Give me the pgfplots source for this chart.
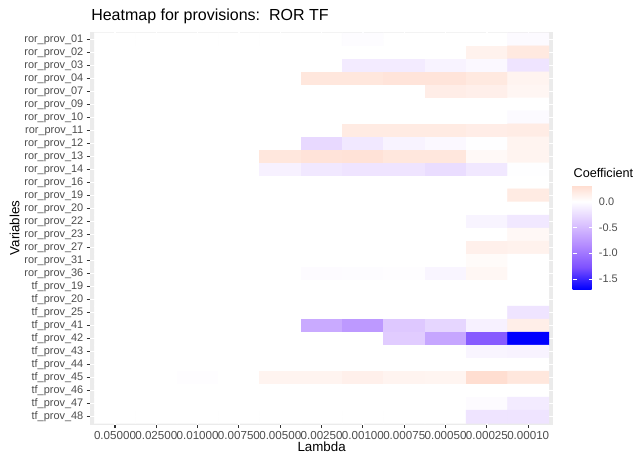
\documentclass[border=0pt]{standalone}
\usepackage{pgfplots}
\pgfplotsset{compat=1.18}
\usepackage{fontspec}
\setmainfont{Liberation Sans}
\definecolor{grey92}{RGB}{235,235,235}
\definecolor{grey30}{RGB}{77,77,77}
\definecolor{grey20}{RGB}{51,51,51}

\begin{document}
\begin{tikzpicture}[x=1pt,y=1pt]
\useasboundingbox (0,0) rectangle (478.5,342);
\begin{axis}[
  at={(67.65pt,23.6pt)}, anchor=south west,
  scale only axis, width=347.1pt, height=294.75pt,
  xmin=-0.6, xmax=10.6, ymin=-0.6, ymax=29.6, y dir=reverse,
  axis line style={draw=none},
  axis background/.style={fill=grey92},
  grid=major, major grid style={white, line width=1.07pt},
  tick align=outside, major tick length=2.75pt,
  tick style={grey20, line width=0.8pt},
  xtick pos=bottom, ytick pos=left,
  xtick={0,...,10},
  xticklabels={0.05000,0.02500,0.01000,0.00750,0.00500,0.00250,0.00100,0.00075,0.00050,0.00025,0.00010},
  ytick={0,...,29},
  yticklabels={ror\_prov\_01,ror\_prov\_02,ror\_prov\_03,ror\_prov\_04,ror\_prov\_07,ror\_prov\_09,ror\_prov\_10,ror\_prov\_11,ror\_prov\_12,ror\_prov\_13,ror\_prov\_14,ror\_prov\_16,ror\_prov\_19,ror\_prov\_20,ror\_prov\_22,ror\_prov\_23,ror\_prov\_27,ror\_prov\_31,ror\_prov\_36,tf\_prov\_19,tf\_prov\_20,tf\_prov\_25,tf\_prov\_41,tf\_prov\_42,tf\_prov\_43,tf\_prov\_44,tf\_prov\_45,tf\_prov\_46,tf\_prov\_47,tf\_prov\_48},
  tick label style={text=grey30, inner sep=0pt},
  xticklabel style={font=\fontsize{8.7}{10}\selectfont, yshift=-2.2pt},
  yticklabel style={font=\fontsize{8.2}{9.8}\selectfont, xshift=-2.2pt},
  % blue - white - red gradient, positions = (value + 1.7) * 200
  colormap={coefmap}{rgb255(0pt)=(0,0,255); rgb255(85pt)=(126,81,255); rgb255(170pt)=(179,139,255); rgb255(255pt)=(220,197,255); rgb255(340pt)=(255,255,255); rgb255(374pt)=(255,236,229); rgb255(400pt)=(255,222,209)},
  point meta min=-1.7, point meta max=0.3,
  colorbar,
  colorbar style={
    at={(parent axis.south east)}, anchor=south west,
    xshift=6.2pt, yshift=101.4pt,
    scale only axis, width=15pt, height=77.5pt,
    axis line style={draw=none},
    xtick=\empty,
    ytick={-1.5,-1,-0.5,0}, yticklabels={-1.5,-1.0,-0.5,0.0},
    ytick pos=both, yticklabel pos=right,
    tick align=inside, major tick length=3pt,
    tick style={white, line width=0.6pt},
    yticklabel style={font=\fontsize{8.2}{9.8}\selectfont, text=grey30, inner sep=0pt, anchor=west, xshift=4.5pt},
  },
]
\addplot[matrix plot*, mesh/cols=11, point meta=explicit] coordinates {
(0,0)[0] (1,0)[0] (2,0)[0] (3,0)[0] (4,0)[0] (5,0)[0] (6,0)[-0.02] (7,0)[0] (8,0)[0] (9,0)[0] (10,0)[-0.04]

(0,1)[0] (1,1)[0] (2,1)[0] (3,1)[0] (4,1)[0] (5,1)[0] (6,1)[0] (7,1)[0] (8,1)[0] (9,1)[0.12] (10,1)[0.2]

(0,2)[0] (1,2)[0] (2,2)[0] (3,2)[0] (4,2)[0] (5,2)[0] (6,2)[-0.15] (7,2)[-0.15] (8,2)[-0.09] (9,2)[-0.05] (10,2)[-0.2]

(0,3)[0] (1,3)[0] (2,3)[0] (3,3)[0] (4,3)[0] (5,3)[0.22] (6,3)[0.22] (7,3)[0.24] (8,3)[0.24] (9,3)[0.2] (10,3)[0.1]

(0,4)[0] (1,4)[0] (2,4)[0] (3,4)[0] (4,4)[0] (5,4)[0] (6,4)[0] (7,4)[0] (8,4)[0.16] (9,4)[0.14] (10,4)[0.08]

(0,5)[0] (1,5)[0] (2,5)[0] (3,5)[0] (4,5)[0] (5,5)[0] (6,5)[0] (7,5)[0] (8,5)[0] (9,5)[0] (10,5)[0]

(0,6)[0] (1,6)[0] (2,6)[0] (3,6)[0] (4,6)[0] (5,6)[0] (6,6)[0] (7,6)[0] (8,6)[0] (9,6)[0] (10,6)[-0.04]

(0,7)[0] (1,7)[0] (2,7)[0] (3,7)[0] (4,7)[0] (5,7)[0] (6,7)[0.18] (7,7)[0.18] (8,7)[0.18] (9,7)[0.16] (10,7)[0.17]

(0,8)[0] (1,8)[0] (2,8)[0] (3,8)[0] (4,8)[0] (5,8)[-0.28] (6,8)[-0.17] (7,8)[-0.09] (8,8)[-0.05] (9,8)[-0.01] (10,8)[0.1]

(0,9)[0] (1,9)[0] (2,9)[0] (3,9)[0] (4,9)[0.22] (5,9)[0.25] (6,9)[0.26] (7,9)[0.22] (8,9)[0.22] (9,9)[0.05] (10,9)[0.1]

(0,10)[0] (1,10)[0] (2,10)[0] (3,10)[0] (4,10)[-0.1] (5,10)[-0.17] (6,10)[-0.2] (7,10)[-0.2] (8,10)[-0.25] (9,10)[-0.17] (10,10)[-0.01]

(0,11)[0] (1,11)[0] (2,11)[0] (3,11)[0] (4,11)[0] (5,11)[0] (6,11)[0] (7,11)[0] (8,11)[0] (9,11)[0] (10,11)[0]

(0,12)[0] (1,12)[0] (2,12)[0] (3,12)[0] (4,12)[0] (5,12)[0] (6,12)[0] (7,12)[0] (8,12)[0] (9,12)[0] (10,12)[0.18]

(0,13)[0] (1,13)[0] (2,13)[0] (3,13)[0] (4,13)[0] (5,13)[0] (6,13)[0] (7,13)[0] (8,13)[0] (9,13)[0] (10,13)[0]

(0,14)[0] (1,14)[0] (2,14)[0] (3,14)[0] (4,14)[0] (5,14)[0] (6,14)[0] (7,14)[0] (8,14)[0] (9,14)[-0.08] (10,14)[-0.17]

(0,15)[0] (1,15)[0] (2,15)[0] (3,15)[0] (4,15)[0] (5,15)[0] (6,15)[0] (7,15)[0] (8,15)[0] (9,15)[0] (10,15)[0.06]

(0,16)[0] (1,16)[0] (2,16)[0] (3,16)[0] (4,16)[0] (5,16)[0] (6,16)[0] (7,16)[0] (8,16)[0] (9,16)[0.13] (10,16)[0.12]

(0,17)[0] (1,17)[0] (2,17)[0] (3,17)[0] (4,17)[0] (5,17)[0] (6,17)[0] (7,17)[0] (8,17)[0] (9,17)[0.04] (10,17)[0]

(0,18)[0] (1,18)[0] (2,18)[0] (3,18)[0] (4,18)[0] (5,18)[-0.03] (6,18)[-0.02] (7,18)[-0.015] (8,18)[-0.07] (9,18)[0.07] (10,18)[0]

(0,19)[0] (1,19)[0] (2,19)[0] (3,19)[0] (4,19)[0] (5,19)[0] (6,19)[0] (7,19)[0] (8,19)[0] (9,19)[0] (10,19)[0]

(0,20)[0] (1,20)[0] (2,20)[0] (3,20)[0] (4,20)[0] (5,20)[0] (6,20)[0] (7,20)[0] (8,20)[0] (9,20)[0] (10,20)[0]

(0,21)[0] (1,21)[0] (2,21)[0] (3,21)[0] (4,21)[0] (5,21)[0] (6,21)[0] (7,21)[0] (8,21)[0] (9,21)[0] (10,21)[-0.2]

(0,22)[0] (1,22)[0] (2,22)[0] (3,22)[0] (4,22)[0] (5,22)[-0.62] (6,22)[-0.75] (7,22)[-0.4] (8,22)[-0.3] (9,22)[-0.1] (10,22)[0.15]

(0,23)[0] (1,23)[0] (2,23)[0] (3,23)[0] (4,23)[0] (5,23)[0] (6,23)[0] (7,23)[-0.37] (8,23)[-0.65] (9,23)[-1.2] (10,23)[-1.7]

(0,24)[0] (1,24)[0] (2,24)[0] (3,24)[0] (4,24)[0] (5,24)[0] (6,24)[0] (7,24)[0] (8,24)[0] (9,24)[-0.07] (10,24)[-0.09]

(0,25)[0] (1,25)[0] (2,25)[0] (3,25)[0] (4,25)[0] (5,25)[0] (6,25)[0] (7,25)[0] (8,25)[0] (9,25)[0] (10,25)[0]

(0,26)[0] (1,26)[0] (2,26)[-0.015] (3,26)[0] (4,26)[0.1] (5,26)[0.1] (6,26)[0.13] (7,26)[0.1] (8,26)[0.09] (9,26)[0.3] (10,26)[0.22]

(0,27)[0] (1,27)[0] (2,27)[0] (3,27)[0] (4,27)[0] (5,27)[0] (6,27)[0] (7,27)[0] (8,27)[0] (9,27)[0] (10,27)[0]

(0,28)[0] (1,28)[0] (2,28)[0] (3,28)[0] (4,28)[0] (5,28)[0] (6,28)[0] (7,28)[0] (8,28)[0] (9,28)[-0.03] (10,28)[-0.15]

(0,29)[0] (1,29)[0] (2,29)[0] (3,29)[0] (4,29)[0] (5,29)[0] (6,29)[0] (7,29)[0] (8,29)[0] (9,29)[-0.2] (10,29)[-0.2]
};
\end{axis}
% titles
\node[anchor=base west, inner sep=0pt, font=\fontsize{12}{14}\selectfont] at (68.25,326.25) {Heatmap for provisions:\ \ ROR TF};
\node[anchor=base, inner sep=0pt, font=\fontsize{10}{12}\selectfont] at (241.2,3) {Lambda};
\node[anchor=base, rotate=90, inner sep=0pt, font=\fontsize{10}{12}\selectfont] at (14.6,171) {Variables};
\node[anchor=base west, inner sep=0pt, font=\fontsize{9.5}{11}\selectfont] at (430,209) {Coefficient};
\end{tikzpicture}
\end{document}
